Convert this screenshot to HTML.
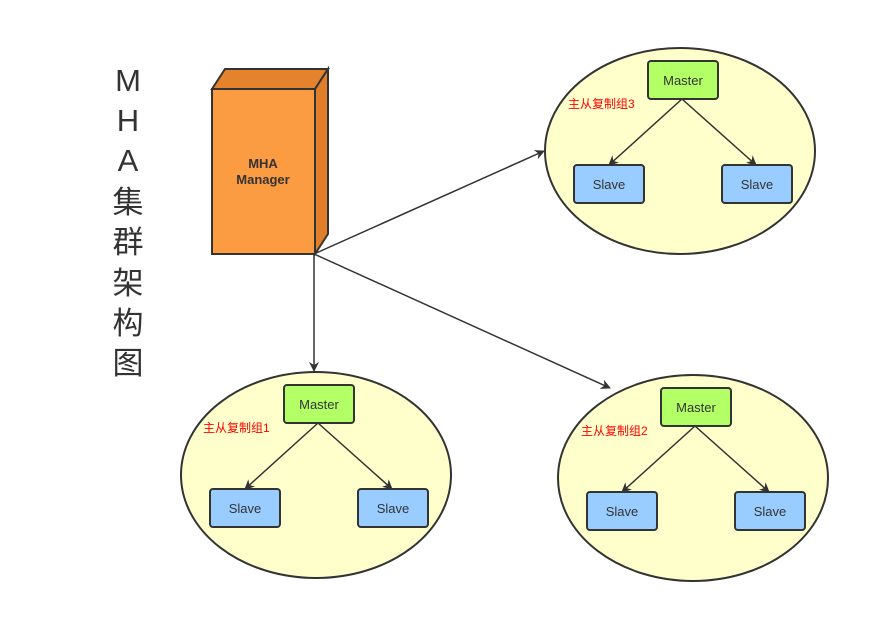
<!DOCTYPE html>
<html><head><meta charset="utf-8"><style>
html,body{margin:0;padding:0;background:#fff;}
svg{display:block;}
text{font-family:"Liberation Sans","Noto Sans CJK SC",sans-serif;}
</style></head><body>
<svg width="890" height="643" viewBox="0 0 890 643" xmlns="http://www.w3.org/2000/svg">
<defs>
<marker id="ar" markerWidth="10" markerHeight="10" refX="9" refY="5" orient="auto" markerUnits="userSpaceOnUse">
<path d="M0,0 L10,5 L0,10 L3,5 Z" fill="#333"/>
</marker>
</defs>
<g fill="#333" font-size="31" text-anchor="middle">
<text x="128" y="91">M</text>
<text x="128" y="131">H</text>
<text x="128" y="171">A</text>
<text x="128" y="213">集</text>
<text x="128" y="253">群</text>
<text x="128" y="294">架</text>
<text x="128" y="334">构</text>
<text x="128" y="374">图</text>
</g>
<!-- manager box -->
<polygon points="212,89 225,69 328,69 315,89" fill="#e5822d" stroke="#333" stroke-width="2"/>
<polygon points="315,89 328,69 328,234 315,254" fill="#e07e2a" stroke="#333" stroke-width="2"/>
<rect x="212" y="89" width="103" height="165" fill="#fb9b42" stroke="#333" stroke-width="2"/>
<text x="263" y="168" font-size="13" font-weight="bold" fill="#333" text-anchor="middle">MHA</text>
<text x="263" y="184" font-size="13" font-weight="bold" fill="#333" text-anchor="middle">Manager</text>
<!-- ellipses -->
<g fill="#ffffcc" stroke="#333" stroke-width="2">
<ellipse cx="316" cy="475" rx="135" ry="103"/>
<ellipse cx="693" cy="478" rx="135" ry="103"/>
<ellipse cx="680" cy="151" rx="135" ry="103"/>
</g>
<!-- main arrows -->
<g stroke="#333" stroke-width="1.5" fill="none" marker-end="url(#ar)">
<line x1="314" y1="254" x2="314" y2="371"/>
<line x1="314" y1="254" x2="610" y2="388"/>
<line x1="314" y1="254" x2="544" y2="151"/>
</g>
<!-- group template -->
<g id="g1">
<g stroke="#333" stroke-width="1.5" fill="none" marker-end="url(#ar)">
<line x1="318" y1="423" x2="245" y2="489"/>
<line x1="318" y1="423" x2="392" y2="489"/>
</g>
<rect x="284" y="385" width="70" height="38" rx="3" fill="#b3ff66" stroke="#333" stroke-width="2"/>
<rect x="210" y="489" width="70" height="38" rx="3" fill="#99ccff" stroke="#333" stroke-width="2"/>
<rect x="358" y="489" width="70" height="38" rx="3" fill="#99ccff" stroke="#333" stroke-width="2"/>
<g font-size="13" fill="#333" text-anchor="middle">
<text x="319" y="409">Master</text>
<text x="245" y="513">Slave</text>
<text x="393" y="513">Slave</text>
</g>
</g>
<text x="203" y="432" font-size="12" fill="#ff0000">主从复制组1</text>
<use href="#g1" transform="translate(377,3)"/>
<text x="581" y="435" font-size="12" fill="#ff0000">主从复制组2</text>
<use href="#g1" transform="translate(364,-324)"/>
<text x="568" y="108" font-size="12" fill="#ff0000">主从复制组3</text>
</svg>
</body></html>
